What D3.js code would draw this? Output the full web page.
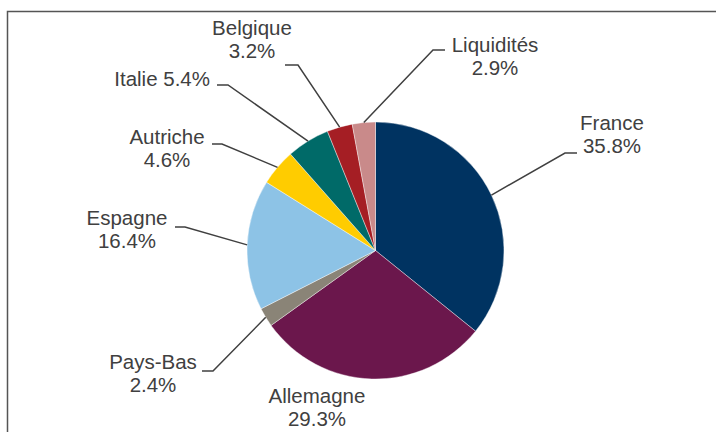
<!DOCTYPE html>
<html>
  <head>
    <meta charset="utf-8" />
    <script src="https://cdn.jsdelivr.net/npm/d3@7"></script>
    <style>
      body {
        margin: 0px;
        background: #fff;
      }
      .label {
        fill: #404040;
        font-size: 20.5px;
        font-family: "Liberation Sans", Arial, sans-serif;
      }
      .leader {
        fill: none;
        stroke: #404040;
        stroke-width: 1.5;
      }
    </style>
  </head>
  <body>
    <svg width="716" height="432"></svg>
    <script>
      // data, clockwise from 12 o'clock
      const countries = ["France", "Allemagne", "Pays-Bas", "Espagne", "Autriche", "Italie", "Belgique", "Liquidités"];
      const shares = [35.8, 29.3, 2.4, 16.4, 4.6, 5.4, 3.2, 2.9];
      const colors = ["#003361", "#6b174c", "#8a8477", "#8dc3e6", "#ffcc00", "#006a68", "#a51e24", "#c98a8a"];

      // where each label sits and where its leader line bends (null = no line)
      const labelLayout = [
        { x: 612, y: 130, anchor: "middle", lines: 2, elbow: [565, 153], end: [577, 153] },
        { x: 317, y: 403, anchor: "middle", lines: 2, elbow: null },
        { x: 153, y: 369, anchor: "middle", lines: 2, elbow: [213, 371], end: [202, 371] },
        { x: 127, y: 225, anchor: "middle", lines: 2, elbow: [185, 227], end: [175, 227] },
        { x: 167, y: 144, anchor: "middle", lines: 2, elbow: [222, 144], end: [212, 144] },
        { x: 210, y: 86, anchor: "end", lines: 1, elbow: [228, 85], end: [217, 85] },
        { x: 252, y: 35, anchor: "middle", lines: 2, elbow: [298, 65], end: [285, 65] },
        { x: 495, y: 52, anchor: "middle", lines: 2, elbow: [433, 50], end: [445, 50] },
      ];

      const svg = d3.select("svg");
      const cx = 375.5;
      const cy = 250.5;
      const radius = 128.5;

      // chart frame
      svg
        .append("rect")
        .attr("x", 7.5)
        .attr("y", 11.5)
        .attr("width", 720)
        .attr("height", 430)
        .attr("fill", "none")
        .attr("stroke", "#555")
        .attr("stroke-width", 1.5);

      const data = countries.map((c, i) => ({ name: c, value: shares[i], color: colors[i] }));

      const pie = d3.pie().sort(null).value((d) => d.value);
      const arc = d3.arc().innerRadius(0).outerRadius(radius);
      const arcs = pie(data);

      const g = svg.append("g").attr("transform", `translate(${cx},${cy})`);

      g.selectAll("path.slice")
        .data(arcs)
        .enter()
        .append("path")
        .attr("class", "slice")
        .attr("d", arc)
        .attr("fill", (d) => d.data.color)
        .attr("stroke", "#fff")
        .attr("stroke-width", 0.4);

      // leader lines: from the slice edge at its mid angle
      arcs.forEach((a, i) => {
        const lay = labelLayout[i];
        if (!lay.elbow) return;
        const mid = (a.startAngle + a.endAngle) / 2;
        const sx = cx + radius * Math.sin(mid);
        const sy = cy - radius * Math.cos(mid);
        svg
          .append("path")
          .attr("class", "leader")
          .attr("d", d3.line()([[sx, sy], lay.elbow, lay.end]));
      });

      // labels
      arcs.forEach((a, i) => {
        const lay = labelLayout[i];
        const pct = d3.format(".1f")(a.data.value) + "%";
        const t = svg
          .append("text")
          .attr("class", "label")
          .attr("x", lay.x)
          .attr("y", lay.y)
          .attr("text-anchor", lay.anchor);
        if (lay.lines === 1) {
          t.text(a.data.name + " " + pct);
        } else {
          t.append("tspan").attr("x", lay.x).text(a.data.name);
          t.append("tspan").attr("x", lay.x).attr("dy", 23).text(pct);
        }
      });
    </script>
  </body>
</html>
